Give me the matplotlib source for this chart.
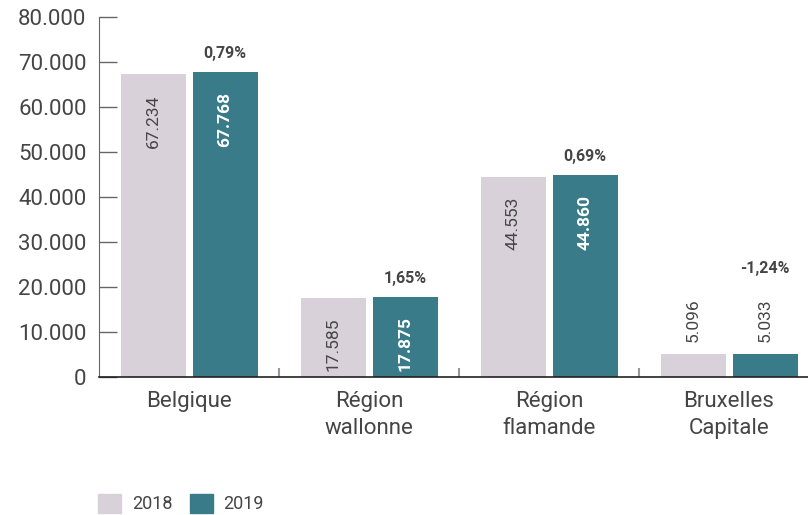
import numpy as np
import matplotlib.pyplot as plt
from matplotlib.patches import Patch
from matplotlib.transforms import offset_copy

plt.rcParams['font.family'] = ['Roboto', 'DejaVu Sans']

# données
categories = ['Belgique', 'Région\nwallonne', 'Région\nflamande', 'Bruxelles\nCapitale']
v2018 = [67234, 17585, 44553, 5096]
v2019 = [67768, 17875, 44860, 5033]
variation = ['0,79%', '1,65%', '0,69%', '-1,24%']
yticks = [0, 10000, 20000, 30000, 40000, 50000, 60000, 70000, 80000]

c2018 = '#d9d1d9'
c2019 = '#3a7b8a'
txt = '#454545'


def fmt(v):
    return f'{v:,}'.replace(',', '.')


fig = plt.figure(figsize=(8.08, 5.15), dpi=100)
ax = fig.add_axes([99 / 808, 1 - 377 / 515, 1 - 99 / 808, 360 / 515])

x = np.arange(len(categories))
w = 65 / 180
gap = 7 / 180
b1 = ax.bar(x - (w + gap) / 2, v2018, w, color=c2018)
b2 = ax.bar(x + (w + gap) / 2, v2019, w, color=c2019)

ax.set_xlim(-0.5, -0.5 + 709 / 180)
ax.set_ylim(0, 80000)

# labels dans les barres
for bars, vals, col, wt in [(b1, v2018, txt, 'normal'), (b2, v2019, 'white', 'bold')]:
    for rect, v in zip(bars, vals):
        cx = rect.get_x() + rect.get_width() / 2
        if v > 10000:
            tr = offset_copy(ax.transData, fig=fig, y=-20, units='dots')
            ax.text(cx, v, fmt(v), rotation=90, ha='center', va='top', color=col,
                    fontsize=12.5, fontweight=wt, transform=tr)
        else:
            tr = offset_copy(ax.transData, fig=fig, y=12, units='dots')
            ax.text(cx, v, fmt(v), rotation=90, ha='center', va='bottom', color=txt,
                    fontsize=12.5, transform=tr)

# variations
for rect, v, p in zip(b2, v2019, variation):
    cx = rect.get_x() + rect.get_width() / 2
    dy = 11 if v > 10000 else 78
    tr = offset_copy(ax.transData, fig=fig, y=dy, units='dots')
    ax.text(cx, v, p, ha='center', va='bottom', color=txt, fontsize=11.5,
            fontweight='bold', transform=tr)

# axes
ax.spines['top'].set_visible(False)
ax.spines['right'].set_visible(False)
ax.spines['left'].set_color('#666666')
ax.spines['bottom'].set_color('#222222')
ax.spines['bottom'].set_linewidth(1.2)
ax.set_yticks(yticks)
ax.set_yticklabels([fmt(t) for t in yticks])
ax.tick_params(axis='y', direction='in', length=13, width=1, color='#666666',
               labelsize=16, labelcolor=txt, pad=9)
ax.set_xticks(x)
ax.set_xticklabels(categories, fontsize=16, color=txt, linespacing=1.4)
ax.tick_params(axis='x', length=0, pad=10)

# séparateurs entre groupes
ax.vlines(x[:-1] + 0.5, 0, 9 / 360, transform=ax.get_xaxis_transform(),
          color='#999999', linewidth=1.5)

handles = [Patch(color=c2018, label='2018'), Patch(color=c2019, label='2019')]
fig.legend(handles=handles, loc='lower left', bbox_to_anchor=(82 / 808, -0.028), ncol=2,
           frameon=False, fontsize=13, handlelength=1.25, handleheight=1.25,
           handletextpad=0.6, columnspacing=1.0, labelcolor=txt)

fig.savefig('out.png', dpi=100)
